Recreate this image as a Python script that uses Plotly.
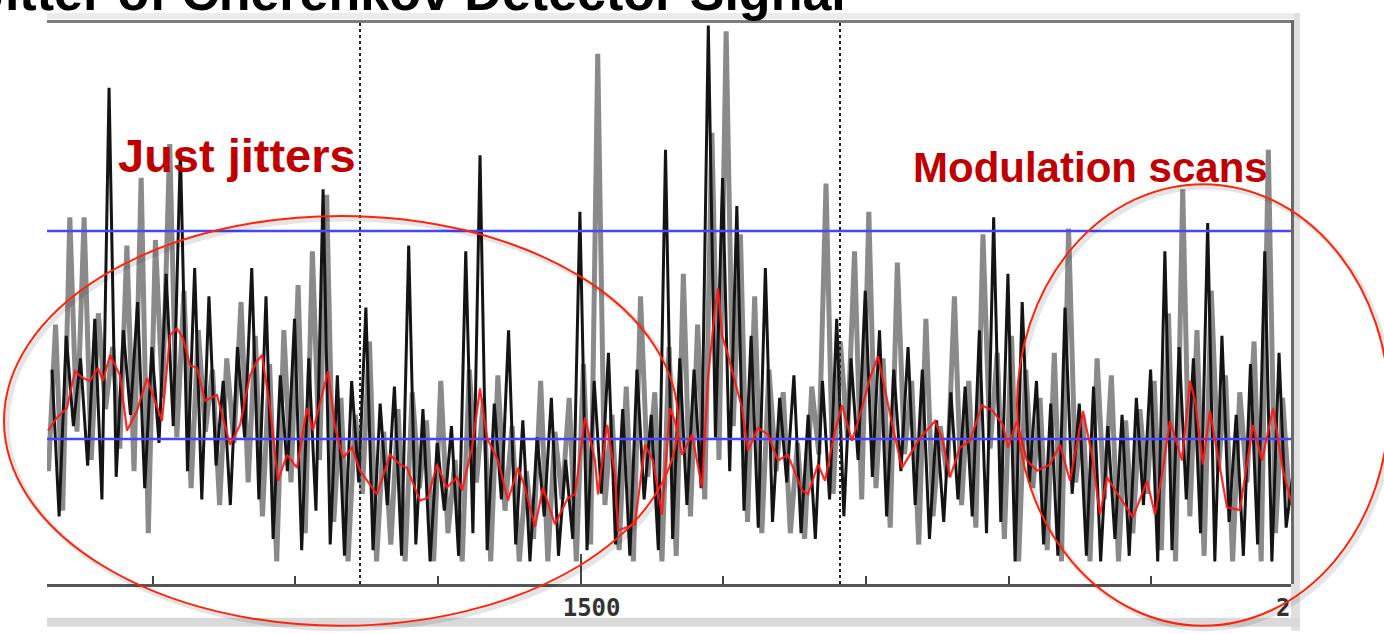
import numpy as np
import plotly.graph_objects as go

# ---- data -------------------------------------------------------------
# Two interleaved detector channels sampled every 5 time units
x_step = 5.0
gray_x0 = 1127.0
black_x0 = 1129.5

gray_signal = [
    20, 46, 13, 65, 27, 65, 22, 48, 31, 42,
    24, 60, 20, 72, 9, 61, 33, 78, 26, 52,
    17, 45, 27, 38, 14, 40, 25, 50, 18, 44,
    12, 39, 4, 45, 18, 53, 9, 59, 22, 69,
    11, 33, 4, 30, 16, 43, 4, 27, 7, 31,
    4, 34, 17, 29, 4, 36, 9, 22, 4, 38,
    18, 33, 4, 37, 13, 28, 4, 20, 8, 36,
    4, 27, 15, 33, 4, 39, 7, 94, 14, 30,
    6, 35, 4, 51, 19, 34, 4, 42, 5, 55,
    12, 46, 15, 80, 22, 98, 28, 62, 11, 51,
    9, 38, 20, 34, 9, 25, 8, 35, 23, 71,
    16, 43, 26, 59, 15, 66, 17, 40, 10, 57,
    23, 36, 7, 47, 12, 28, 19, 51, 14, 36,
    10, 62, 24, 41, 8, 44, 4, 38, 17, 33,
    6, 41, 4, 63, 18, 30, 4, 40, 15, 37,
    4, 29, 9, 31, 16, 36, 6, 48, 4, 70,
    12, 45, 5, 52, 20, 37, 4, 34, 18, 43,
    4, 77, 9, 33, 14,
]

black_signal = [
    38, 12, 44, 28, 40, 21, 47, 15, 88, 19,
    45, 30, 50, 17, 42, 25, 55, 28, 77, 20,
    56, 15, 51, 21, 36, 14, 42, 26, 56, 15,
    51, 8, 37, 20, 47, 6, 40, 13, 70, 7,
    37, 5, 36, 18, 49, 6, 32, 14, 35, 5,
    60, 7, 31, 4, 25, 13, 28, 5, 59, 9,
    76, 6, 32, 15, 45, 7, 29, 4, 26, 12,
    33, 5, 22, 8, 66, 6, 36, 16, 41, 7,
    31, 5, 38, 15, 30, 6, 77, 8, 40, 14,
    38, 17, 99, 26, 72, 20, 67, 13, 44, 10,
    56, 11, 33, 18, 37, 9, 30, 8, 36, 15,
    47, 12, 40, 22, 52, 19, 45, 12, 38, 20,
    42, 14, 38, 8, 29, 11, 34, 15, 35, 12,
    45, 9, 65, 11, 55, 4, 50, 18, 36, 7,
    32, 5, 49, 16, 32, 5, 35, 4, 28, 8,
    30, 5, 33, 14, 38, 4, 59, 6, 42, 15,
    40, 9, 64, 4, 44, 11, 30, 5, 39, 7,
    59, 4, 41, 10, 20,
]

# Running average of the signal
avg_x = [
    1126.7, 1133.0, 1140.0, 1145.6, 1151.2, 1156.1, 1161.7, 1165.2, 1170.2, 1177.2,
    1182.1, 1189.1, 1196.1, 1200.3, 1206.6, 1212.2, 1217.1, 1221.3, 1226.2, 1231.1,
    1236.7, 1245.1, 1254.3, 1261.3, 1268.3, 1273.2, 1276.7, 1282.3, 1287.9, 1294.2,
    1301.2, 1308.2, 1312.4, 1323.0, 1327.9, 1333.5, 1339.8, 1345.4, 1352.4, 1357.3,
    1366.4, 1373.4, 1378.3, 1387.4, 1393.0, 1399.3, 1406.3, 1413.4, 1416.9, 1423.9,
    1429.5, 1434.4, 1442.1, 1449.1, 1456.1, 1461.0, 1468.0, 1473.6, 1482.0, 1491.2,
    1496.1, 1503.1, 1510.1, 1512.2, 1518.5, 1524.1, 1526.2, 1533.2, 1538.1, 1545.1,
    1550.7, 1557.0, 1562.6, 1566.1, 1571.1, 1578.1, 1585.1, 1589.3, 1594.2, 1596.3,
    1599.1, 1603.3, 1608.2, 1613.1, 1617.3, 1624.3, 1631.3, 1638.3, 1645.3, 1655.2,
    1659.4, 1666.4, 1671.3, 1678.3, 1683.2, 1690.2, 1697.2, 1702.8, 1708.4, 1714.7,
    1718.9, 1725.2, 1730.8, 1737.9, 1748.4, 1753.3, 1758.9, 1765.9, 1772.9, 1781.3,
    1789.0, 1796.0, 1799.5, 1805.8, 1812.8, 1819.9, 1829.0, 1836.0, 1843.0, 1852.1,
    1858.4, 1864.0, 1868.9, 1878.0, 1887.1, 1897.0, 1902.6, 1908.2, 1913.1, 1921.5,
    1927.1, 1930.6, 1936.2, 1941.1, 1946.7, 1953.0, 1962.1, 1971.2, 1977.6, 1985.3,
    1992.3, 1998.6,
]
avg_y = [
    27.2, 29.5, 31.2, 37.7, 36.5, 36.0, 38.3, 36.0, 40.6, 37.0,
    27.2, 30.7, 36.5, 33.5, 28.9, 44.1, 45.3, 43.6, 38.8, 38.3,
    32.5, 33.5, 24.7, 28.2, 37.0, 39.5, 40.6, 31.2, 18.3, 22.9,
    20.6, 31.2, 27.2, 37.7, 27.7, 22.4, 24.2, 20.1, 17.6, 15.9,
    22.9, 21.2, 20.6, 14.8, 15.3, 21.2, 17.1, 18.9, 16.6, 24.2,
    34.7, 25.9, 21.9, 14.8, 20.6, 17.1, 10.1, 17.1, 10.6, 15.3,
    15.9, 29.5, 21.9, 15.9, 28.2, 19.4, 9.5, 10.1, 10.6, 24.7,
    21.9, 12.3, 31.2, 28.9, 22.9, 26.5, 17.1, 36.5, 48.9, 52.4,
    44.1, 40.6, 36.0, 31.2, 23.6, 27.7, 26.5, 21.9, 22.9, 16.6,
    15.9, 21.2, 18.3, 27.2, 31.7, 25.4, 31.2, 36.5, 40.4, 32.5,
    27.7, 20.6, 22.9, 25.9, 28.9, 25.9, 18.9, 24.2, 25.4, 31.7,
    30.7, 28.2, 24.2, 28.9, 21.9, 20.1, 21.2, 24.7, 18.3, 30.7,
    22.9, 12.3, 18.9, 15.3, 11.8, 18.3, 12.3, 20.6, 28.9, 21.9,
    36.0, 32.5, 21.2, 30.7, 22.9, 13.6, 13.1, 28.2, 21.9, 31.2,
    20.1, 14.1,
]

thresholds = [25.7, 62.6]          # horizontal reference levels
run_markers = [1345.4, 1681.8]     # vertical run boundaries
x_range = [1126, 2000]
y_range = [0, 100]
major_ticks = [1500, 2000]
major_labels = ["1500", "2000"]
minor_ticks = [1200, 1300, 1400, 1600, 1700, 1800, 1900]

gray_x = gray_x0 + x_step * np.arange(len(gray_signal))
black_x = black_x0 + x_step * np.arange(len(black_signal))

# ---- figure -------------------------------------------------------------
W, H = 1384, 634
ML, MR, MT, MB = 47, 90, 20, 47
PW, PH = W - ML - MR, H - MT - MB


def px(xp):
    return (xp - ML) / PW


def py(yp):
    return (H - MB - yp) / PH


fig = go.Figure()

fig.add_trace(go.Scatter(x=gray_x, y=gray_signal, mode="lines",
                         line=dict(color="#8a8a8a", width=5), hoverinfo="skip"))
fig.add_trace(go.Scatter(x=black_x, y=black_signal, mode="lines",
                         line=dict(color="#141414", width=3), hoverinfo="skip"))
for t in thresholds:
    fig.add_trace(go.Scatter(x=x_range, y=[t, t], mode="lines",
                             line=dict(color="rgb(70,70,255)", width=2.5), hoverinfo="skip"))
for m in run_markers:
    fig.add_trace(go.Scatter(x=[m, m], y=y_range, mode="lines",
                             line=dict(color="#222222", width=2, dash="dot"), hoverinfo="skip"))
fig.add_trace(go.Scatter(x=avg_x, y=avg_y, mode="lines",
                         line=dict(color="rgba(255,25,25,0.92)", width=2.2), hoverinfo="skip"))

shapes = [
    # window frame
    dict(type="rect", xref="paper", yref="paper", x0=0, x1=px(1300), y0=py(19), y1=py(13),
         fillcolor="#ececec", line_width=0, layer="above"),
    dict(type="rect", xref="paper", yref="paper", x0=0, x1=px(1294), y0=py(23), y1=py(20),
         fillcolor="#7d7d7d", line_width=0, layer="above"),
    dict(type="rect", xref="paper", yref="paper", x0=px(1291), x1=px(1294), y0=py(587), y1=py(20),
         fillcolor="#6a6a6a", line_width=0, layer="above"),
    dict(type="rect", xref="paper", yref="paper", x0=px(1291), x1=px(1300), y0=py(634), y1=py(587),
         fillcolor="#e0e0e0", line_width=0, layer="above"),
    dict(type="rect", xref="paper", yref="paper", x0=px(1294), x1=px(1300), y0=py(587), y1=py(13),
         fillcolor="#e0e0e0", line_width=0, layer="above"),
    dict(type="rect", xref="paper", yref="paper", x0=px(1300), x1=px(1390), y0=py(640), y1=py(0),
         fillcolor="white", line_width=0, layer="above"),
    dict(type="rect", xref="paper", yref="paper", x0=0, x1=px(1300), y0=py(630), y1=py(621),
         fillcolor="#dadada", line_width=0, layer="above"),
]

# highlighted regions (with a soft drop shadow)
ellipses = [(4, 678, 217, 629), (1017, 1389, 185, 629)]
for x0, x1, y0, y1 in ellipses:
    shapes.append(dict(type="circle", xref="paper", yref="paper",
                       x0=px(x0 + 3), x1=px(x1 + 3), y0=py(y1 + 3), y1=py(y0 + 3),
                       line=dict(color="rgba(0,0,0,0.10)", width=5), layer="above"))
for x0, x1, y0, y1 in ellipses:
    shapes.append(dict(type="circle", xref="paper", yref="paper",
                       x0=px(x0), x1=px(x1), y0=py(y1), y1=py(y0),
                       line=dict(color="rgb(255,35,10)", width=2), layer="above"))

annotations = [
    dict(text="Jitter of Cherenkov Detector Signal", xref="paper", yref="paper",
         x=px(-26), y=py(-8), xanchor="left", yanchor="middle", showarrow=False,
         font=dict(family="Liberation Sans, Arial, sans-serif", size=52, color="black",
                   weight="bold")),
    dict(text="Just jitters", xref="paper", yref="paper",
         x=px(116), y=py(156), xanchor="left", yanchor="middle", showarrow=False,
         font=dict(family="Liberation Sans, Arial, sans-serif", size=47, color="#c00000",
                   weight="bold")),
    dict(text="Modulation scans", xref="paper", yref="paper",
         x=px(911), y=py(168), xanchor="left", yanchor="middle", showarrow=False,
         font=dict(family="Liberation Sans, Arial, sans-serif", size=42, color="#c00000",
                   weight="bold")),
]

fig.update_layout(
    width=W, height=H, autosize=False,
    margin=dict(l=ML, r=MR, t=MT, b=MB, pad=0),
    paper_bgcolor="white", plot_bgcolor="white",
    showlegend=False,
    shapes=shapes,
    annotations=annotations,
    xaxis=dict(range=x_range, showgrid=False, zeroline=False,
               showline=True, linecolor="#555555", linewidth=3,
               ticks="inside", tickvals=major_ticks, ticktext=major_labels,
               ticklen=30, tickwidth=2, tickcolor="#444444",
               ticklabelshift=11, ticklabelstandoff=0,
               tickfont=dict(family="DejaVu Sans Mono, monospace", size=24,
                             color="#333333", weight="bold"),
               minor=dict(tickvals=minor_ticks, ticks="inside", ticklen=8,
                          tickwidth=2, tickcolor="#444444")),
    yaxis=dict(range=y_range, showgrid=False, zeroline=False, showline=False,
               showticklabels=False, ticks=""),
)

fig.write_html("out.html", config={"displayModeBar": False})
